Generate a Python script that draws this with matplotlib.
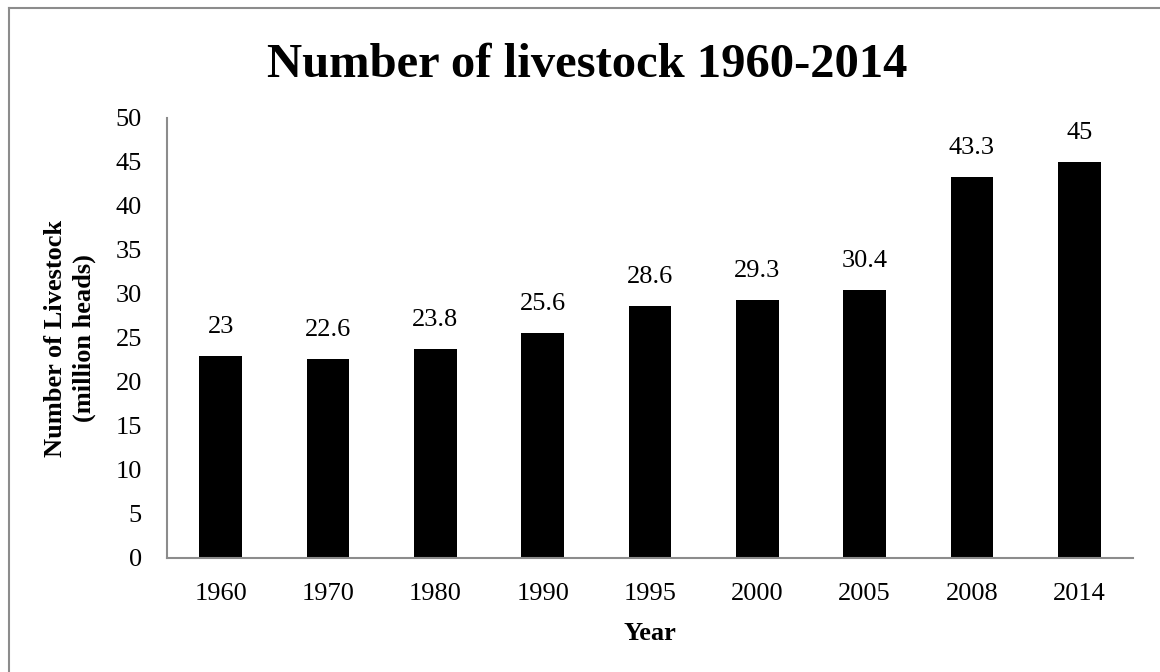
import matplotlib.pyplot as plt
import numpy as np
from matplotlib.lines import Line2D

# Data
years = ['1960', '1970', '1980', '1990', '1995', '2000', '2005', '2008', '2014']
livestock = [23, 22.6, 23.8, 25.6, 28.6, 29.3, 30.4, 43.3, 45]
value_labels = ['23', '22.6', '23.8', '25.6', '28.6', '29.3', '30.4', '43.3', '45']
y_ticks = [0, 5, 10, 15, 20, 25, 30, 35, 40, 45, 50]

plt.rcParams['font.family'] = ['Liberation Serif', 'DejaVu Serif']

fig = plt.figure(figsize=(11.6, 6.72), dpi=100)
ax = fig.add_axes([167 / 1160, 1 - 558 / 672, (1133 - 167) / 1160, (558 - 118) / 672])

x = np.arange(len(years))
bars = ax.bar(x, livestock, width=0.4, color='black')

# Value labels above bars
for xi, v, lab in zip(x, livestock, value_labels):
    ax.annotate(lab, (xi, v), xytext=(0, 13), textcoords='offset points',
                ha='center', va='bottom', fontsize=19)

ax.set_xlim(-0.5, len(years) - 0.5)
ax.set_ylim(0, 50)
ax.set_yticks(y_ticks)
ax.set_xticks(x)
ax.set_xticklabels(years)
ax.tick_params(axis='both', length=0, labelsize=19)
ax.tick_params(axis='y', pad=18)
ax.tick_params(axis='x', pad=18)

for s in ['top', 'right']:
    ax.spines[s].set_visible(False)
for s in ['left', 'bottom']:
    ax.spines[s].set_color('#8c8c8c')
    ax.spines[s].set_linewidth(1.5)

ax.set_xlabel('Year', fontsize=19, fontweight='bold', labelpad=12)
ax.set_ylabel('Number of Livestock\n(million heads)', fontsize=19,
              fontweight='bold', labelpad=14, linespacing=1.3)

fig.text(587 / 1160, 1 - 65 / 672, 'Number of livestock 1960-2014',
         ha='center', va='center', fontsize=35, fontweight='bold')

# Chart frame (only top and left edges visible in the crop)
fig.add_artist(Line2D([9 / 1160, 9 / 1160], [0, 1 - 8 / 672],
                      transform=fig.transFigure, color='#8c8c8c', lw=1.5))
fig.add_artist(Line2D([9 / 1160, 1], [1 - 8 / 672, 1 - 8 / 672],
                      transform=fig.transFigure, color='#8c8c8c', lw=1.5))

plt.savefig('out.png', dpi=100)
